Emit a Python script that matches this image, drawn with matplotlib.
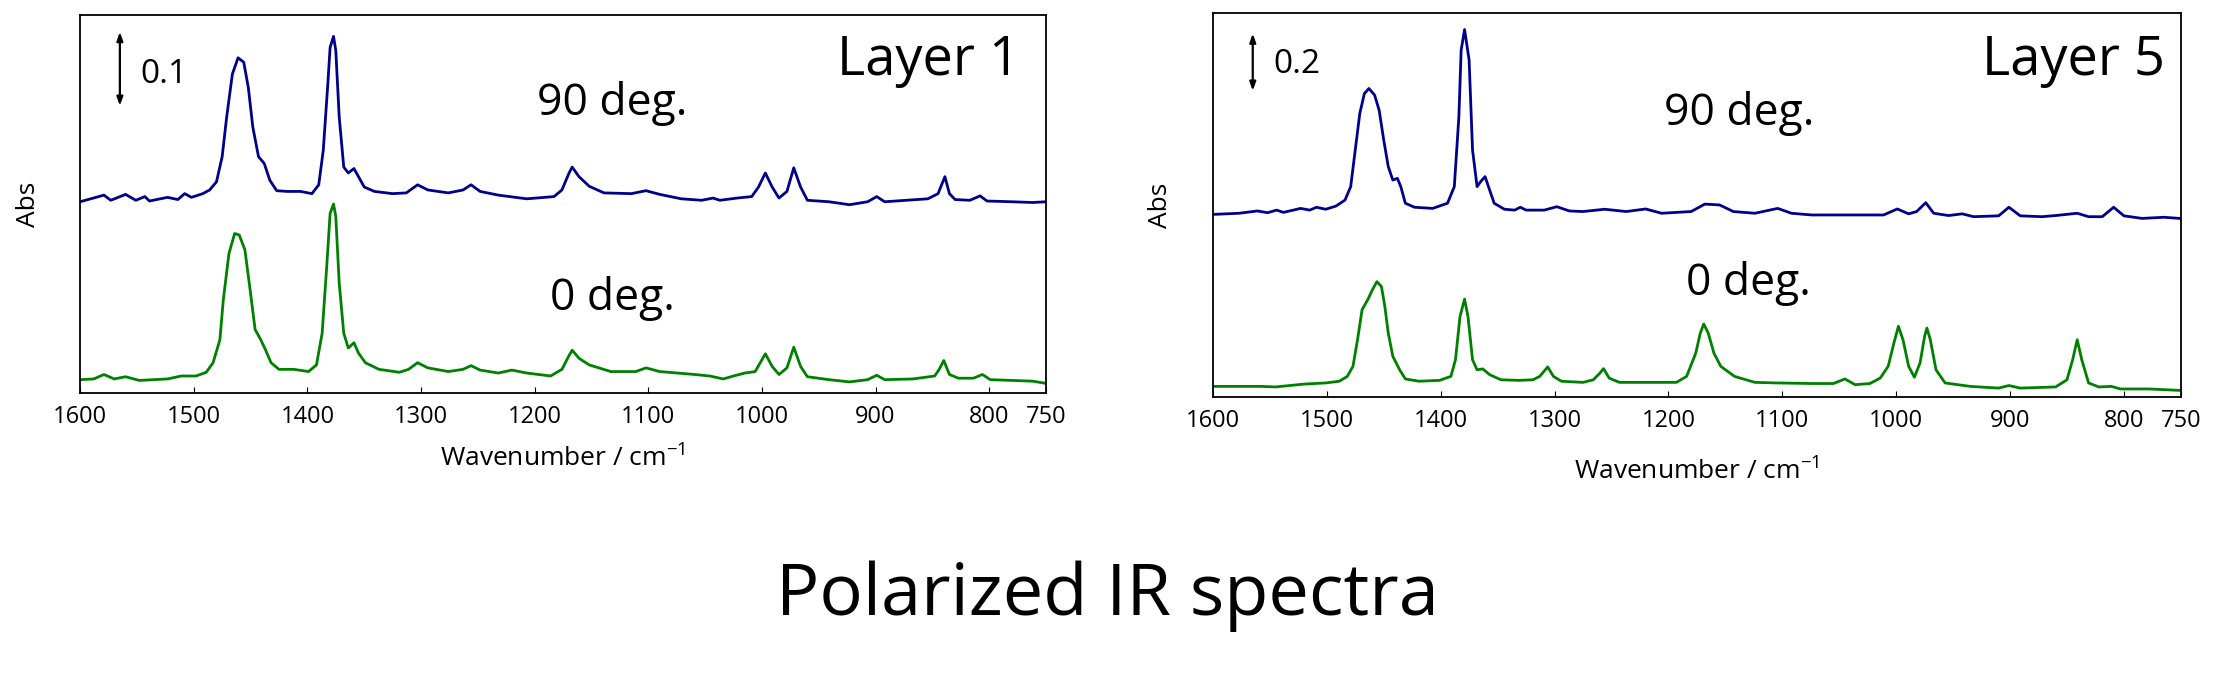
import matplotlib
matplotlib.use("Agg")
import matplotlib.pyplot as plt

# ------------------- FONTS -------------------
plt.rcParams['font.family'] = ['Open Sans', 'DejaVu Sans']
plt.rcParams['mathtext.fontset'] = 'custom'
plt.rcParams['mathtext.rm'] = 'Open Sans'

# ------------------- DATA -------------------
# Layer 1, 90 deg. (absorbance, plotted with OFFSET_L added)
wn_l90 = [1600, 1579, 1573, 1560, 1551, 1543, 1539, 1523, 1514, 1508,
          1502, 1492, 1486, 1480, 1475, 1471, 1466, 1461, 1456, 1452,
          1448, 1443, 1438, 1433, 1427, 1418, 1406, 1396, 1390, 1386,
          1382, 1380, 1377, 1375, 1372, 1368, 1364, 1359, 1355, 1350,
          1341, 1325, 1313, 1303, 1294, 1276, 1263, 1256, 1248, 1232,
          1207, 1183, 1176, 1170, 1167, 1161, 1152, 1139, 1115, 1102,
          1090, 1071, 1053, 1043, 1037, 1022, 1009, 1003, 997, 991,
          985, 978, 972, 966, 960, 941, 923, 907, 899, 892,
          873, 854, 845, 839, 835, 830, 817, 808, 802, 780,
          762, 750]
abs_l90 = [0.009, 0.018, 0.011, 0.019, 0.011, 0.016, 0.010, 0.015, 0.012, 0.020,
           0.015, 0.020, 0.025, 0.036, 0.070, 0.124, 0.182, 0.204, 0.198, 0.164,
           0.110, 0.070, 0.061, 0.038, 0.024, 0.023, 0.023, 0.020, 0.032, 0.079,
           0.169, 0.218, 0.233, 0.214, 0.124, 0.056, 0.048, 0.054, 0.043, 0.029,
           0.023, 0.020, 0.021, 0.032, 0.025, 0.021, 0.025, 0.032, 0.023, 0.018,
           0.013, 0.016, 0.025, 0.047, 0.056, 0.043, 0.030, 0.021, 0.020, 0.024,
           0.019, 0.013, 0.011, 0.014, 0.011, 0.014, 0.016, 0.029, 0.048, 0.029,
           0.014, 0.023, 0.055, 0.029, 0.011, 0.009, 0.005, 0.009, 0.016, 0.009,
           0.011, 0.013, 0.020, 0.043, 0.020, 0.012, 0.011, 0.017, 0.010, 0.009,
           0.008, 0.009]

# Layer 1, 0 deg.
wn_l0 = [1600, 1588, 1579, 1570, 1560, 1548, 1523, 1511, 1498, 1489,
         1483, 1477, 1474, 1469, 1464, 1460, 1455, 1450, 1446, 1441,
         1437, 1432, 1425, 1412, 1399, 1392, 1387, 1383, 1380, 1377,
         1375, 1372, 1368, 1364, 1359, 1355, 1349, 1337, 1319, 1311,
         1303, 1294, 1276, 1263, 1256, 1248, 1232, 1220, 1207, 1186,
         1176, 1170, 1167, 1161, 1152, 1133, 1111, 1102, 1090, 1059,
         1046, 1034, 1025, 1015, 1006, 997, 991, 985, 978, 972,
         966, 960, 941, 923, 907, 899, 892, 867, 848, 844,
         840, 835, 827, 814, 806, 799, 780, 762, 750]
abs_l0 = [0.018, 0.019, 0.025, 0.019, 0.022, 0.017, 0.019, 0.023, 0.023, 0.028,
          0.041, 0.072, 0.126, 0.189, 0.216, 0.214, 0.194, 0.135, 0.086, 0.072,
          0.059, 0.041, 0.032, 0.032, 0.029, 0.038, 0.081, 0.171, 0.243, 0.256,
          0.239, 0.149, 0.081, 0.061, 0.068, 0.054, 0.041, 0.032, 0.028, 0.032,
          0.041, 0.034, 0.029, 0.032, 0.037, 0.031, 0.027, 0.031, 0.027, 0.023,
          0.032, 0.050, 0.058, 0.047, 0.038, 0.029, 0.029, 0.034, 0.029, 0.025,
          0.023, 0.019, 0.023, 0.027, 0.029, 0.053, 0.036, 0.025, 0.034, 0.062,
          0.036, 0.022, 0.018, 0.015, 0.018, 0.024, 0.018, 0.019, 0.023, 0.032,
          0.044, 0.025, 0.020, 0.020, 0.025, 0.018, 0.017, 0.016, 0.013]

# Layer 5, 90 deg. (plotted with OFFSET_R added)
wn_r90 = [1600, 1577, 1561, 1552, 1544, 1538, 1523, 1515, 1509, 1501,
          1492, 1484, 1479, 1475, 1471, 1467, 1463, 1458, 1454, 1450,
          1446, 1442, 1438, 1435, 1431, 1423, 1407, 1394, 1388, 1384,
          1382, 1379, 1375, 1372, 1368, 1365, 1361, 1358, 1353, 1344,
          1335, 1330, 1325, 1309, 1298, 1287, 1275, 1256, 1237, 1220,
          1206, 1180, 1168, 1155, 1143, 1124, 1104, 1092, 1074, 1042,
          1011, 999, 989, 982, 974, 967, 954, 942, 932, 910,
          901, 891, 872, 860, 841, 831, 819, 809, 800, 784,
          765, 751]
abs_r90 = [0.038, 0.042, 0.050, 0.044, 0.053, 0.045, 0.059, 0.053, 0.063, 0.056,
           0.067, 0.088, 0.135, 0.263, 0.391, 0.460, 0.478, 0.455, 0.402, 0.298,
           0.205, 0.158, 0.164, 0.135, 0.077, 0.063, 0.059, 0.077, 0.135, 0.379,
           0.612, 0.684, 0.577, 0.263, 0.135, 0.152, 0.170, 0.135, 0.077, 0.056,
           0.053, 0.063, 0.053, 0.053, 0.065, 0.050, 0.048, 0.056, 0.048, 0.057,
           0.042, 0.048, 0.074, 0.071, 0.048, 0.042, 0.059, 0.042, 0.036, 0.036,
           0.036, 0.057, 0.040, 0.048, 0.079, 0.042, 0.034, 0.040, 0.030, 0.033,
           0.063, 0.033, 0.030, 0.034, 0.042, 0.030, 0.030, 0.063, 0.033, 0.024,
           0.028, 0.024]

# Layer 5, 0 deg.
wn_r0 = [1600, 1577, 1558, 1545, 1520, 1501, 1489, 1482, 1477, 1473,
         1469, 1464, 1460, 1456, 1452, 1449, 1446, 1442, 1436, 1431,
         1419, 1401, 1391, 1387, 1383, 1379, 1376, 1372, 1368, 1363,
         1357, 1347, 1331, 1319, 1313, 1306, 1301, 1294, 1275, 1266,
         1260, 1257, 1252, 1243, 1218, 1193, 1184, 1176, 1172, 1169,
         1165, 1160, 1154, 1142, 1124, 1105, 1074, 1055, 1045, 1036,
         1023, 1014, 1007, 1002, 998, 994, 989, 984, 979, 975,
         973, 970, 965, 957, 935, 910, 901, 891, 860, 850,
         845, 841, 837, 831, 822, 811, 803, 778, 751]
abs_r0 = [0.037, 0.037, 0.037, 0.035, 0.045, 0.049, 0.055, 0.072, 0.107, 0.200,
          0.305, 0.340, 0.374, 0.403, 0.386, 0.316, 0.223, 0.142, 0.095, 0.063,
          0.055, 0.058, 0.072, 0.130, 0.281, 0.342, 0.281, 0.130, 0.095, 0.098,
          0.078, 0.060, 0.058, 0.060, 0.072, 0.105, 0.072, 0.055, 0.051, 0.060,
          0.084, 0.099, 0.066, 0.051, 0.051, 0.051, 0.072, 0.153, 0.223, 0.255,
          0.223, 0.153, 0.107, 0.072, 0.051, 0.049, 0.047, 0.047, 0.063, 0.043,
          0.047, 0.066, 0.107, 0.188, 0.247, 0.200, 0.107, 0.069, 0.119, 0.212,
          0.241, 0.200, 0.095, 0.049, 0.037, 0.031, 0.040, 0.031, 0.035, 0.060,
          0.130, 0.200, 0.130, 0.049, 0.035, 0.037, 0.028, 0.028, 0.023]

OFFSET_L = 0.25
OFFSET_R = 0.60
SCALE_L = 0.1
SCALE_R = 0.2
XTICKS = [1600, 1500, 1400, 1300, 1200, 1100, 1000, 900, 800, 750]

BLUE = '#00008b'
GREEN = '#008000'


# ------------------- PANEL -------------------
def draw_panel(ax, wn90, a90, wn0, a0, offset, ymax, scale, scale_y0,
               layer, pos90, pos0, layer_pos, label_y):
    ax.plot(wn90, [v + offset for v in a90], color=BLUE, lw=2.0)
    ax.plot(wn0, a0, color=GREEN, lw=2.0)

    ax.set_xlim(1600, 750)
    ax.set_ylim(0, ymax)
    ax.set_xticks(XTICKS)
    ax.set_yticks([])
    ax.tick_params(axis='x', direction='in', length=4, width=0.8,
                   labelsize=17, pad=9)
    for sp in ax.spines.values():
        sp.set_linewidth(1.3)

    ax.set_xlabel('Wavenumber / cm$^{\\mathregular{-1}}$', fontsize=19)
    ax.xaxis.set_label_coords(0.5, label_y)
    ax.set_ylabel('Abs', fontsize=19)
    ax.yaxis.set_label_coords(-0.041, 0.5)

    # scale bar
    ax.annotate('', xy=(1565, scale_y0), xytext=(1565, scale_y0 + scale),
                arrowprops=dict(arrowstyle='<|-|>,head_length=0.5,head_width=0.18',
                                color='black', lw=1.6, shrinkA=0, shrinkB=0))
    ax.text(1547, scale_y0 + 0.31 * scale, str(scale), fontsize=24,
            ha='left', va='baseline')

    ax.text(layer_pos[0], layer_pos[1], layer, fontsize=39,
            ha='right', va='baseline', transform=ax.transAxes)
    ax.text(pos90[0], pos90[1], '90 deg.', fontsize=32,
            ha='center', va='baseline', transform=ax.transAxes)
    ax.text(pos0[0], pos0[1], '0 deg.', fontsize=32,
            ha='center', va='baseline', transform=ax.transAxes)


# ------------------- FIGURE -------------------
fig = plt.figure(figsize=(22.19, 6.78), dpi=100)
ax_l = fig.add_axes([0.0361, 0.4204, 0.4353, 0.5575])
ax_r = fig.add_axes([0.5466, 0.4145, 0.4362, 0.5664])

draw_panel(ax_l, wn_l90, abs_l90, wn_l0, abs_l0, OFFSET_L, 0.512, SCALE_L, 0.389,
           'Layer 1', (0.551, 0.735), (0.551, 0.22), (0.973, 0.841), -0.135)
draw_panel(ax_r, wn_r90, abs_r90, wn_r0, abs_r0, OFFSET_R, 1.342, SCALE_R, 1.070,
           'Layer 5', (0.544, 0.708), (0.553, 0.266), (0.984, 0.839), -0.156)

fig.text(0.499, 0.093, 'Polarized IR spectra', fontsize=52,
         ha='center', va='baseline')

fig.savefig('out.png', dpi=100)
